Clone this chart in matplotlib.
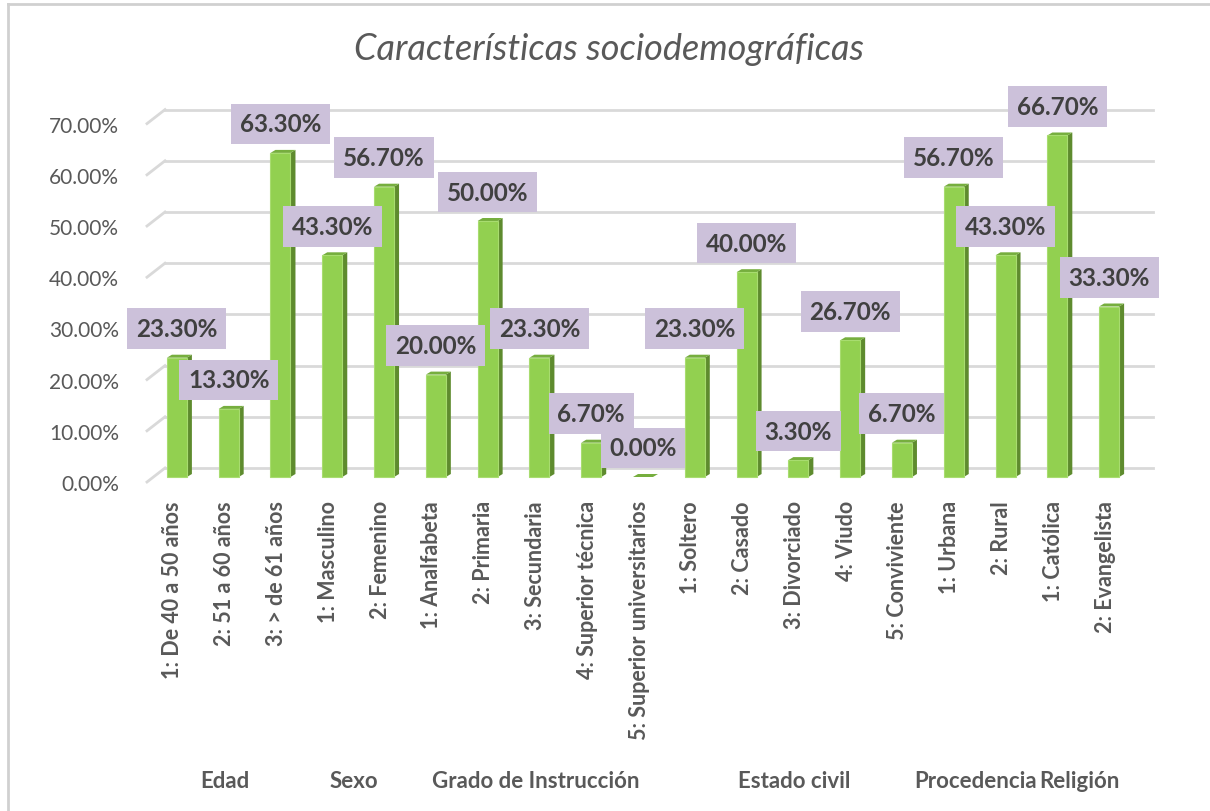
import matplotlib.pyplot as plt
from matplotlib.patches import Rectangle, Polygon
from matplotlib.lines import Line2D

plt.rcParams['font.family'] = ['Lato', 'DejaVu Sans']

# Data
categorias = ["1: De 40 a 50 años", "2: 51 a 60 años", "3: > de 61 años",
              "1: Masculino", "2: Femenino",
              "1: Analfabeta", "2: Primaria", "3: Secundaria", "4: Superior técnica",
              "5: Superior universitarios",
              "1: Soltero", "2: Casado", "3: Divorciado", "4: Viudo", "5: Conviviente",
              "1: Urbana", "2: Rural",
              "1: Católica", "2: Evangelista"]
valores = [23.3, 13.3, 63.3, 43.3, 56.7, 20.0, 50.0, 23.3, 6.7, 0.0,
           23.3, 40.0, 3.3, 26.7, 6.7, 56.7, 43.3, 66.7, 33.3]
grupos = ["Edad", "Sexo", "Grado de Instrucción", "Estado civil", "Procedencia", "Religión"]
grupo_tam = [3, 2, 5, 5, 2, 2]
yticks = [0, 10, 20, 30, 40, 50, 60, 70]

W, H = 1210, 812
fig = plt.figure(figsize=(W / 100, H / 100), dpi=100)
ax_l, ax_r, ax_b, ax_t = 147, 1131, 483, 124.6
ax = fig.add_axes([ax_l / W, (H - ax_b) / H, (ax_r - ax_l) / W, (ax_b - ax_t) / H])
n = len(categorias)
ax.set_xlim(-0.5, n - 0.5)
ax.set_ylim(0, 70)
for s in ax.spines.values():
    s.set_visible(False)

# pixel -> data units
px = n / (ax_r - ax_l)
py = 70 / (ax_b - ax_t)

gris = '#595959'
grid_c = '#D9D9D9'
DX, DY = 18 * px, 14 * py

# 3D gridlines (back wall + left diagonal)
for v in yticks:
    ax.add_line(Line2D([-0.5 + DX, n - 0.5 + DX + 4 * px], [v + DY, v + DY],
                       color=grid_c, lw=2, zorder=1, clip_on=False))
    ax.add_line(Line2D([-0.5, -0.5 + DX], [v, v + DY], color=grid_c, lw=2, zorder=1,
                       clip_on=False))

# bars
w = 20 * px
ox, oy = 4 * px, 5 * py
sx, sy = 5 * px, 3 * py
verde = '#92D050'
lado = '#5E8B2E'
tope = '#76AE3E'
for i, v in enumerate(valores):
    x0 = i - w / 2 + ox
    x1 = x0 + w
    y0 = oy
    y1 = oy + v
    ax.add_patch(Polygon([(x1, y0), (x1 + sx, y0 + sy), (x1 + sx, y1 + sy), (x1, y1)],
                         closed=True, fc=lado, ec='none', zorder=3, clip_on=False))
    ax.add_patch(Polygon([(x0, y1), (x1, y1), (x1 + sx, y1 + sy), (x0 + sx, y1 + sy)],
                         closed=True, fc=tope, ec='none', zorder=3, clip_on=False))
    if v > 0:
        ax.add_patch(Rectangle((x0, y0), w, v, fc=verde, ec='#A8DC70', lw=0.8, zorder=4,
                               clip_on=False))

# data labels
for i, v in enumerate(valores):
    ax.text(i + ox, v + DY + 20 * py, f"{v:.2f}%", ha='center', va='center',
            fontsize=17.5, fontweight='bold', color='#404040', zorder=10, clip_on=False,
            bbox=dict(boxstyle='square,pad=0.36', fc='#CCC1DA', ec='none'))

# axes ticks
ax.set_yticks(yticks)
ax.set_yticklabels([f"{v:.2f}%" for v in yticks], color=gris, fontsize=15)
ax.set_xticks(range(n))
ax.set_xticklabels(categorias, rotation=90, color=gris, fontsize=15.5,
                   fontweight='bold', va='top')
ax.tick_params(axis='y', length=0, pad=20)
ax.tick_params(axis='x', length=0, pad=13)

# group labels
inicio = 0
for g, t in zip(grupos, grupo_tam):
    centro = inicio + (t - 1) / 2
    ax.text(centro, (ax_b - 782) * py, g, ha='center', va='center',
            fontsize=16, fontweight='bold', color=gris)
    inicio += t

fig.text(609 / W, 1 - 50 / H, "Características sociodemográficas", ha='center',
         va='center', fontsize=26, style='italic', color=gris)

# chart border
fig.add_artist(Line2D([8 / W, 8 / W], [0, 1 - 5 / H], transform=fig.transFigure,
                      color='#D0D0D0', lw=2))
fig.add_artist(Line2D([8 / W, 1], [1 - 5 / H, 1 - 5 / H], transform=fig.transFigure,
                      color='#D0D0D0', lw=2))

fig.savefig('out.png', dpi=100)
